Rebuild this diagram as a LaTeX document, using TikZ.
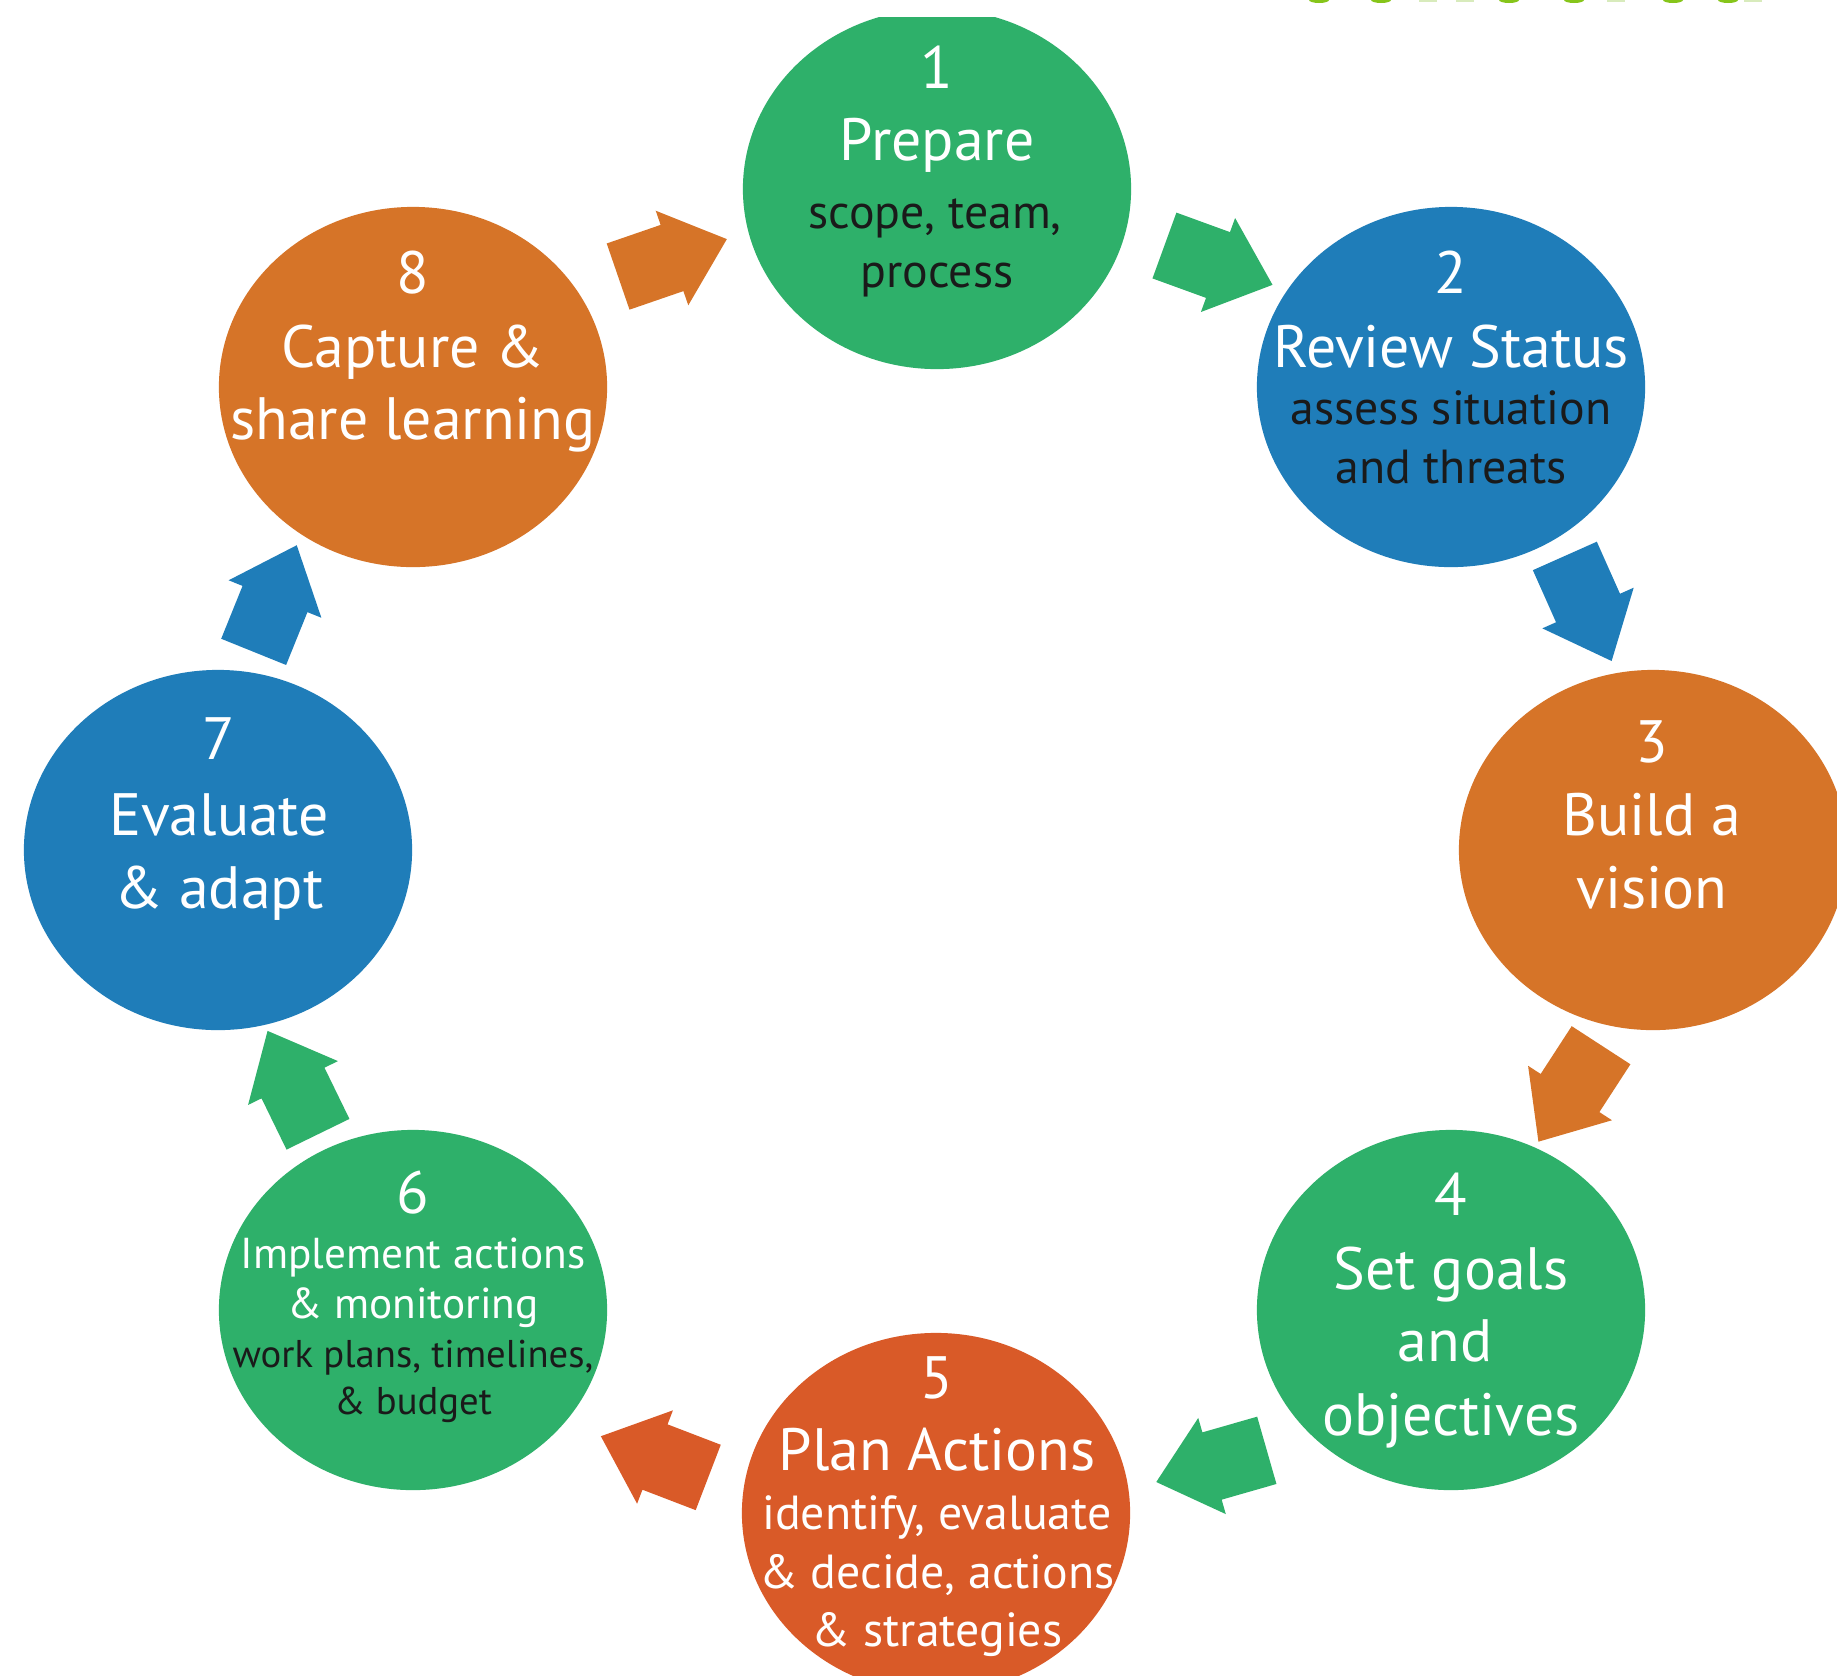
\documentclass[tikz,border=0pt]{standalone}
\usepackage{fontspec}
\setmainfont{PT Sans}
\usetikzlibrary{shapes.geometric}
\definecolor{stepgreen}{HTML}{2EB06A}
\definecolor{stepblue}{HTML}{1F7DB9}
\definecolor{steporange}{HTML}{D67428}
\definecolor{stepred}{HTML}{D95A28}
\definecolor{darktext}{HTML}{1A1A1A}
\definecolor{headlime}{HTML}{86C51A}
\definecolor{headlimelight}{HTML}{D8EBBC}

\begin{document}
\begin{tikzpicture}[x=0.01cm, y=-0.01cm,
  stage/.style={ellipse, inner sep=0pt, minimum width=3.88cm, minimum height=3.6cm},
  num/.style={anchor=base, inner sep=0pt, text=white, font=\fontsize{17}{17}\selectfont},
  title/.style={anchor=base, inner sep=0pt, text=white, font=\fontsize{17}{17}\selectfont},
  sub/.style={anchor=base, inner sep=0pt, text=darktext, font=\fontsize{13.6}{13.6}\selectfont},
  subsmall/.style={anchor=base, inner sep=0pt, text=darktext, font=\fontsize{11}{11}\selectfont},
  blockarrow/.pic={\fill[pic actions] (-57,-35) -- (0,-35) -- (0,-50) -- (58,0) -- (0,50) -- (0,35) -- (-57,35) -- cycle;}
]
\clip (0,0) rectangle (1837,1675);
\fill[white] (0,0) rectangle (1837,1675);

% cut-off heading letters along the top edge
\foreach \x in {1319,1381,1509,1574,1673,1728}
  \fill[headlime] (\x,0) ellipse [x radius=10, y radius=3];
\foreach \x in {1428,1465,1616,1753}
  \fill[headlimelight] (\x-9,0) rectangle (\x+9,2);

% the eight stages
\begin{scope}
  \clip (0,17) rectangle (1837,1675);
  \node[stage, fill=stepgreen] (c1) at (937,189) {};
\end{scope}
\node[stage, fill=stepblue]   (c2) at (1451,387)  {};
\node[stage, fill=steporange] (c3) at (1653,850)  {};
\node[stage, fill=stepgreen]  (c4) at (1451,1310) {};
\node[stage, fill=stepred]    (c5) at (936,1513)  {};
\node[stage, fill=stepgreen]  (c6) at (413,1310)  {};
\node[stage, fill=stepblue]   (c7) at (218,850)   {};
\node[stage, fill=steporange] (c8) at (413,387)   {};

% block arrows between the stages
\pic[fill=steporange, rotate=19]   (a81) at (672,258)   {blockarrow};
\pic[fill=stepgreen,  rotate=-20]  (a12) at (1218,265)  {blockarrow};
\pic[fill=stepblue,   rotate=-66]  (a23) at (1588,608)  {blockarrow};
\pic[fill=steporange, rotate=-123] (a34) at (1570,1093) {blockarrow};
\pic[fill=stepgreen,  rotate=-164] (a45) at (1212,1466) {blockarrow};
\pic[fill=stepred,    rotate=159]  (a56) at (655,1457)  {blockarrow};
\pic[fill=stepgreen,  rotate=116]  (a67) at (293,1083)  {blockarrow};
\pic[fill=stepblue,   rotate=68]   (a78) at (275,599)   {blockarrow};

% stage 1
\node[num]   (n1)  at (937,88)  {1};
\node[title] (t1)  at (937,160) {Prepare};
\node[sub]   (s1a) at (935,228) {scope, team,};
\node[sub]   (s1b) at (937,287) {process};
% stage 2
\node[num]   (n2)  at (1451,293) {2};
\node[title] (t2)  at (1451,367) {Review Status};
\node[sub]   (s2a) at (1451,424) {assess situation};
\node[sub]   (s2b) at (1451,483) {and threats};
% stage 3
\node[num]   (n3)  at (1652,762) {3};
\node[title] (t3a) at (1652,835) {Build a};
\node[title] (t3b) at (1652,908) {vision};
% stage 4
\node[num]   (n4)  at (1451,1215) {4};
\node[title] (t4a) at (1451,1289) {Set goals};
\node[title] (t4b) at (1445,1361) {and};
\node[title] (t4c) at (1451,1435) {objectives};
% stage 5
\node[num]   (n5)  at (937,1398) {5};
\node[title] (t5)  at (937,1470) {Plan Actions};
\node[sub, text=white] (s5a) at (937,1529) {identify, evaluate};
\node[sub, text=white] (s5b) at (937,1588) {\&{} decide, actions};
\node[sub, text=white] (s5c) at (937,1646) {\&{} strategies};
% stage 6
\node[num]   (n6)  at (413,1213) {6};
\node[subsmall, text=white, font=\fontsize{12.3}{12.3}\selectfont] (t6a) at (413,1268) {Implement actions};
\node[subsmall, text=white, font=\fontsize{12.3}{12.3}\selectfont] (t6b) at (413,1318) {\&{} monitoring};
\node[subsmall] (s6a) at (413,1367) {work plans, timelines,};
\node[subsmall] (s6b) at (413,1414) {\&{} budget};
% stage 7
\node[num]   (n7)  at (219,759) {7};
\node[title] (t7a) at (219,835) {Evaluate};
\node[title] (t7b) at (219,908) {\&{} adapt};
% stage 8
\node[num]   (n8)  at (413,293) {8};
\node[title] (t8a) at (413,367) {Capture \&};
\node[title] (t8b) at (413,439) {share learning};
\end{tikzpicture}
\end{document}
